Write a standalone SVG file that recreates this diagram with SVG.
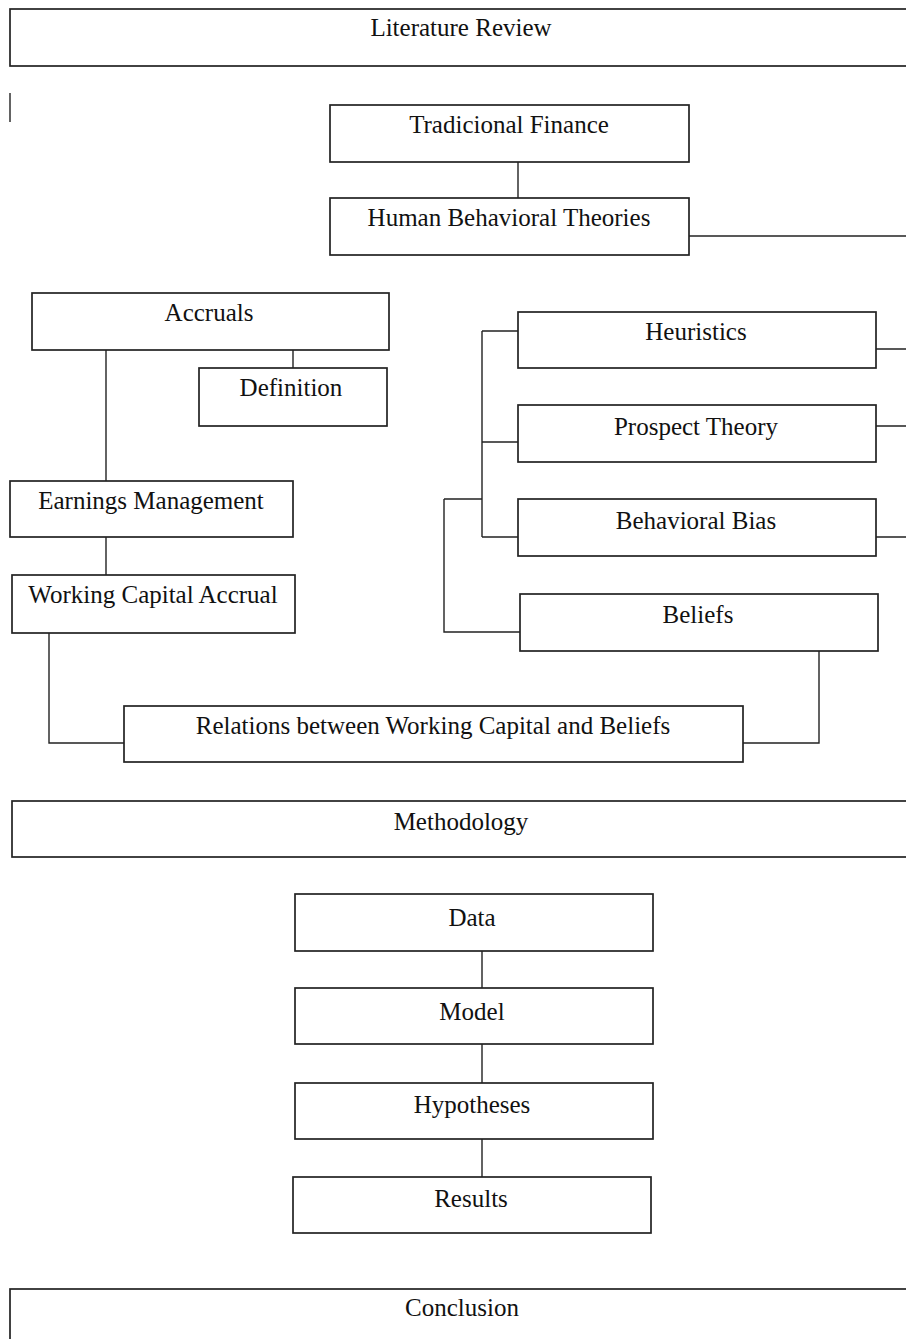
<svg xmlns="http://www.w3.org/2000/svg" width="906" height="1339" viewBox="0 0 906 1339">
<style>
.box{fill:#fff;stroke:#222;stroke-width:1.7}
.lbl{font-family:"Liberation Serif","Times New Roman",serif;font-size:25px;fill:#111;text-anchor:middle}
.con{fill:none;stroke:#222;stroke-width:1.4}
</style>
<rect x="0" y="0" width="906" height="1339" fill="#fff"/>
<g id="connectors">
<path class="con" d="M518,162V198"/>
<path class="con" d="M689,236H906"/>
<path class="con" d="M293,350V368"/>
<path class="con" d="M106,350V481"/>
<path class="con" d="M106,537V575"/>
<path class="con" d="M49,633V743H124"/>
<path class="con" d="M819,651V743H743"/>
<path class="con" d="M482,331V537M482,331H518M482,442H518M482,537H518"/>
<path class="con" d="M444,499H482M444,499V632H520"/>
<path class="con" d="M876,349H906M876,426H906M876,537H906"/>
<path class="con" d="M482,951V988M482,1044V1083M482,1139V1177"/>
<path class="con" d="M10,93V122"/>
</g>
<g id="literature-review"><rect class="box" x="10" y="9" width="920" height="57"/><text class="lbl" x="461" y="36">Literature Review</text></g>
<g id="tradicional-finance"><rect class="box" x="330" y="105" width="359" height="57"/><text class="lbl" x="509" y="133">Tradicional Finance</text></g>
<g id="human-behavioral-theories"><rect class="box" x="330" y="198" width="359" height="57"/><text class="lbl" x="509" y="226">Human Behavioral Theories</text></g>
<g id="accruals"><rect class="box" x="32" y="293" width="357" height="57"/><text class="lbl" x="209" y="321">Accruals</text></g>
<g id="definition"><rect class="box" x="199" y="368" width="188" height="58"/><text class="lbl" x="291" y="396">Definition</text></g>
<g id="earnings-management"><rect class="box" x="10" y="481" width="283" height="56"/><text class="lbl" x="151" y="509">Earnings Management</text></g>
<g id="working-capital-accrual"><rect class="box" x="12" y="575" width="283" height="58"/><text class="lbl" x="153" y="603">Working Capital Accrual</text></g>
<g id="heuristics"><rect class="box" x="518" y="312" width="358" height="56"/><text class="lbl" x="696" y="340">Heuristics</text></g>
<g id="prospect-theory"><rect class="box" x="518" y="405" width="358" height="57"/><text class="lbl" x="696" y="435">Prospect Theory</text></g>
<g id="behavioral-bias"><rect class="box" x="518" y="499" width="358" height="57"/><text class="lbl" x="696" y="529">Behavioral Bias</text></g>
<g id="beliefs"><rect class="box" x="520" y="594" width="358" height="57"/><text class="lbl" x="698" y="623">Beliefs</text></g>
<g id="relations"><rect class="box" x="124" y="706" width="619" height="56"/><text class="lbl" x="433" y="734">Relations between Working Capital and Beliefs</text></g>
<g id="methodology"><rect class="box" x="12" y="801" width="920" height="56"/><text class="lbl" x="461" y="830">Methodology</text></g>
<g id="data"><rect class="box" x="295" y="894" width="358" height="57"/><text class="lbl" x="472" y="926">Data</text></g>
<g id="model"><rect class="box" x="295" y="988" width="358" height="56"/><text class="lbl" x="472" y="1020">Model</text></g>
<g id="hypotheses"><rect class="box" x="295" y="1083" width="358" height="56"/><text class="lbl" x="472" y="1113">Hypotheses</text></g>
<g id="results"><rect class="box" x="293" y="1177" width="358" height="56"/><text class="lbl" x="471" y="1207">Results</text></g>
<g id="conclusion"><rect class="box" x="10" y="1289" width="920" height="80"/><text class="lbl" x="462" y="1316">Conclusion</text></g>
</svg>
